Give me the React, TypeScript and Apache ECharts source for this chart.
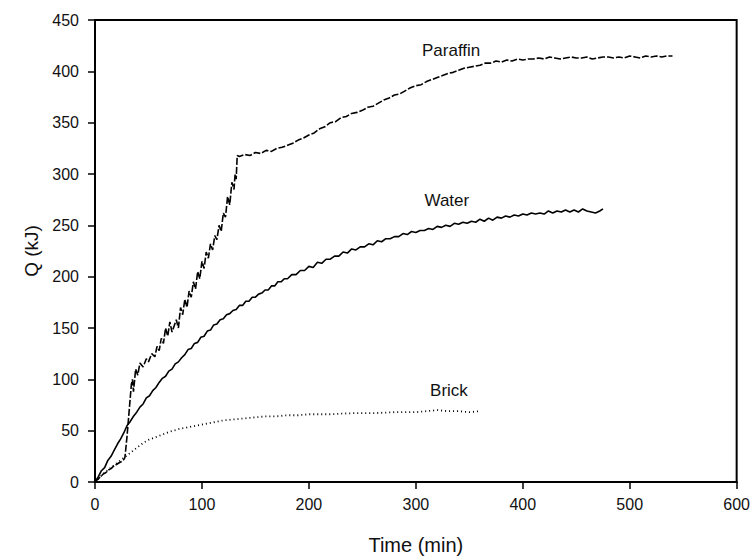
import React, { useEffect, useRef } from "react";
import * as echarts from "echarts";

const paraffin: [number, number][] = [
  [0, 0], [3, 3], [5, 5], [8, 8], [10, 9], [13, 12], [15, 13], [18, 16], [20, 17], [23, 19], [25, 20], [27, 22], [28, 24],
  [30, 45], [32, 70], [34, 95], [35, 100], [36, 88], [38, 110], [40, 104], [42, 116], [45, 112],
  [48, 120], [50, 117], [53, 125], [56, 122], [58, 132], [60, 128], [62, 140], [64, 135], [66, 150],
  [68, 142], [70, 156], [72, 146], [74, 152], [76, 158], [78, 150], [80, 170], [82, 163], [84, 178],
  [86, 170], [88, 186], [90, 180], [92, 195], [94, 188], [96, 205], [98, 198], [100, 215], [102, 208],
  [104, 224], [106, 218], [108, 232], [110, 226], [112, 240], [114, 236], [116, 250], [118, 244],
  [120, 262], [122, 258], [124, 278], [126, 270], [128, 292], [130, 285], [131, 300], [132, 295],
  [133, 318], [135, 317], [140, 319], [145, 318], [150, 321], [155, 320], [160, 323], [165, 322],
  [170, 325], [175, 326], [180, 328], [185, 330], [190, 333], [195, 335], [200, 338], [205, 340],
  [210, 344], [215, 346], [220, 350], [225, 351], [230, 355], [235, 356], [240, 359], [245, 360],
  [250, 362], [255, 365], [260, 366], [265, 369], [270, 372], [275, 374], [280, 377], [285, 378],
  [290, 381], [295, 384], [300, 386], [305, 387], [310, 390], [315, 392], [320, 394], [325, 396],
  [330, 398], [335, 399], [340, 401], [345, 403], [350, 404], [355, 405], [360, 406], [365, 408],
  [370, 408], [375, 410], [380, 409], [385, 411], [390, 410], [395, 412], [400, 411], [405, 412],
  [410, 412], [415, 413], [420, 412], [425, 414], [430, 413], [435, 412], [440, 413], [445, 414],
  [450, 413], [455, 413], [460, 414], [465, 412], [470, 413], [475, 414], [480, 414], [485, 413],
  [490, 414], [495, 413], [500, 415], [505, 414], [510, 413], [515, 415], [520, 414], [525, 415],
  [530, 414], [535, 415], [540, 415],
];

const water: [number, number][] = [
  [0, 0], [3, 5], [6, 11], [9, 14], [12, 21], [15, 25], [18, 31], [21, 37], [24, 42], [27, 48],
  [30, 55], [33, 59], [36, 64], [39, 68], [42, 73], [45, 76], [48, 82], [51, 84], [54, 89], [57, 92],
  [60, 97], [63, 101], [66, 103], [69, 108], [72, 110], [75, 115], [78, 117], [81, 121], [84, 124],
  [87, 129], [90, 130], [93, 135], [96, 136], [99, 141], [102, 142], [105, 147], [108, 148],
  [111, 153], [114, 154], [117, 158], [120, 159], [123, 163], [126, 164], [129, 167], [132, 168],
  [135, 172], [138, 172], [141, 176], [144, 176], [147, 180], [150, 180], [153, 183], [156, 184],
  [159, 187], [162, 187], [165, 191], [168, 191], [171, 195], [174, 195], [177, 198], [180, 198],
  [184, 202], [188, 202], [192, 206], [196, 206], [200, 210], [204, 209], [208, 214], [212, 213],
  [216, 217], [220, 217], [224, 220], [228, 220], [232, 224], [236, 223], [240, 227], [244, 226],
  [248, 229], [252, 229], [256, 232], [260, 231], [264, 235], [268, 234], [272, 237], [276, 237],
  [280, 239], [284, 239], [288, 242], [292, 241], [296, 244], [300, 243], [304, 245], [308, 245],
  [312, 247], [316, 246], [320, 249], [324, 248], [328, 250], [332, 249], [336, 252], [340, 251],
  [344, 253], [348, 252], [352, 254], [356, 253], [360, 256], [364, 254], [368, 257], [372, 255],
  [376, 258], [380, 257], [384, 259], [388, 258], [392, 260], [396, 259], [400, 261], [404, 260],
  [408, 262], [412, 261], [416, 262], [420, 261], [424, 264], [428, 262], [432, 264], [436, 263],
  [440, 265], [444, 263], [448, 265], [452, 263], [456, 266], [460, 264], [464, 263], [468, 262],
  [472, 264], [475, 266],
];

const brick: [number, number][] = [
  [0, 0], [5, 5], [10, 10], [15, 14], [20, 18], [25, 22], [30, 26], [35, 30], [40, 34], [45, 38],
  [50, 41], [55, 43], [60, 45], [70, 49], [80, 52], [90, 54], [100, 56], [110, 58], [120, 60],
  [130, 61], [140, 62], [150, 63], [160, 64], [170, 64], [180, 65], [190, 65], [200, 66], [220, 66],
  [240, 67], [260, 67], [280, 68], [300, 68], [310, 69], [320, 70], [330, 69], [340, 69], [350, 68],
  [360, 69],
];

const xTicks = { min: 0, max: 600, interval: 100 };
const yTicks = { min: 0, max: 450, interval: 50 };

const labels = [
  { name: "Paraffin", coord: [333, 420] },
  { name: "Water", coord: [329, 274] },
  { name: "Brick", coord: [331, 89] },
];

const FONT = "Liberation Sans";

export default function App() {
  const ref = useRef<HTMLDivElement>(null);
  useEffect(() => {
    if (!ref.current) return;
    const chart = echarts.init(ref.current, undefined, { renderer: "svg" });
    const mk = (name: string, data: [number, number][], type: any, width: number) => {
      const lab = labels.find((l) => l.name === name)!;
      return {
        name,
        type: "line",
        data,
        showSymbol: false,
        symbol: "none",
        lineStyle: { color: "#000", width, type },
        markPoint: {
          symbol: "circle",
          symbolSize: 0,
          data: [{ coord: lab.coord, value: name }],
          label: {
            show: true,
            position: "inside",
            formatter: name,
            color: "#111",
            fontFamily: FONT,
            fontSize: 17,
          },
        },
      };
    };
    chart.setOption({
      animation: false,
      backgroundColor: "#fff",
      grid: {
        left: 95,
        right: 13,
        top: 20,
        bottom: 76,
        show: true,
        borderColor: "#000",
        borderWidth: 2,
      },
      xAxis: {
        type: "value",
        ...xTicks,
        name: "Time (min)",
        nameLocation: "middle",
        nameGap: 53,
        nameTextStyle: { fontFamily: FONT, fontSize: 20, color: "#111" },
        axisLine: { show: true, lineStyle: { color: "#000", width: 2 } },
        axisTick: { show: true, length: 7, lineStyle: { color: "#000", width: 1.5 } },
        axisLabel: { fontFamily: FONT, fontSize: 16, color: "#111", margin: 14 },
        splitLine: { show: false },
      },
      yAxis: {
        type: "value",
        ...yTicks,
        name: "Q (kJ)",
        nameLocation: "middle",
        nameGap: 54,
        nameTextStyle: { fontFamily: FONT, fontSize: 19, color: "#111" },
        axisLine: { show: true, lineStyle: { color: "#000", width: 2 } },
        axisTick: { show: true, length: 7, lineStyle: { color: "#000", width: 1.5 } },
        axisLabel: { fontFamily: FONT, fontSize: 16, color: "#111", margin: 16 },
        splitLine: { show: false },
      },
      series: [
        mk("Paraffin", paraffin, [7, 2], 1.6),
        mk("Water", water, "solid", 1.6),
        mk("Brick", brick, [1, 3], 1.8),
      ],
    });
    return () => chart.dispose();
  }, []);
  return (
    <div
      ref={ref}
      style={{ position: "fixed", left: 0, top: 0, width: 753, height: 560, background: "#fff" }}
    />
  );
}
